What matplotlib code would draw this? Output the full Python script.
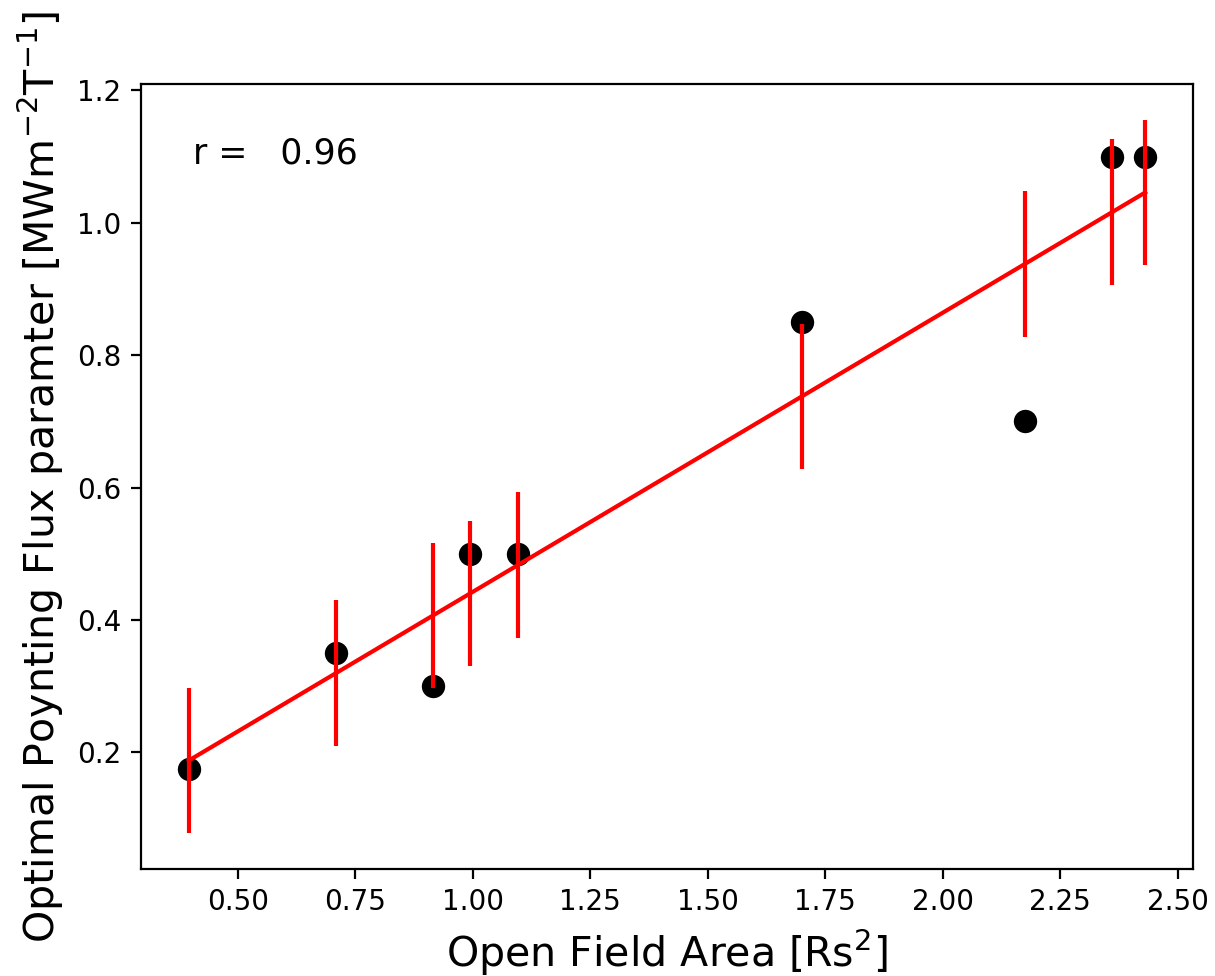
import numpy as np
import matplotlib
matplotlib.use("Agg")
import matplotlib.pyplot as plt

params = {'xtick.labelsize': 10,
          'ytick.labelsize': 10,
          'axes.labelsize': 14.8}
plt.rcParams.update(params)

# open field area vs. best-fit Poynting flux parameter
area = [0.396, 0.709, 0.916, 0.994, 1.097, 1.700, 2.175, 2.360, 2.431]
flux = [0.175, 0.35, 0.30, 0.50, 0.50, 0.85, 0.70, 1.10, 1.10]
fit_err = [0.11, 0.11, 0.11, 0.11, 0.11, 0.11, 0.11, 0.11, 0.11]
r_value = 0.96

area = np.array(area)
flux = np.array(flux)
slope, intercept = np.polyfit(area, flux, 1)
flux_fit = slope * area + intercept

fig, ax = plt.subplots(figsize=(6.075, 4.88), dpi=200)
fig.subplots_adjust(left=141 / 1215, right=1193 / 1215,
                    bottom=1 - 869 / 976, top=1 - 84 / 976)

ax.plot(area, flux, 'o', color='black', markersize=7.4)
ax.errorbar(area, flux_fit, yerr=fit_err, color='red', linewidth=1.5)

ax.text(0.405, 1.09, 'r = %6.2f' % r_value, fontsize=12.5)

ax.set_xlabel('Open Field Area [Rs$^2$]')
ax.set_ylabel('Optimal Poynting Flux paramter [MWm$^{-2}$T$^{-1}$]')

fig.savefig('out.png', dpi=200)
